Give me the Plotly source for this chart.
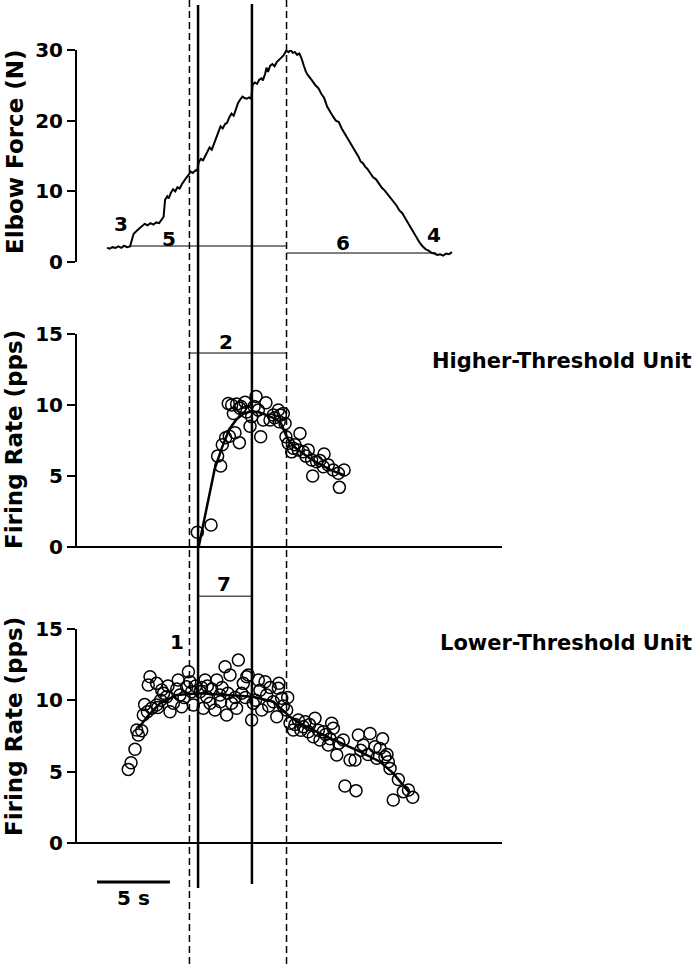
import plotly.graph_objects as go

# force trace (time s, force N)
force_t = [2.12, 2.3, 2.5, 2.7, 2.9, 3.1, 3.3, 3.5, 3.7, 3.85, 3.95, 4.2, 4.45, 4.7, 4.9, 5.1, 5.3, 5.5,
           5.7, 5.9, 6.0, 6.1, 6.25, 6.35, 6.5, 6.65, 6.8, 6.95, 7.1, 7.25, 7.4, 7.55, 7.7, 7.85, 8.0,
           8.2, 8.3, 8.4, 8.55, 8.7, 8.85, 9.0, 9.15, 9.3, 9.45, 9.6, 9.75, 9.9, 10.05, 10.2, 10.35,
           10.5, 10.65, 10.8, 10.95, 11.1, 11.25, 11.4, 11.55, 11.7, 11.85, 12.0, 12.1, 12.25, 12.4,
           12.55, 12.7, 12.8, 12.95, 13.05, 13.15, 13.3, 13.45, 13.6, 13.75, 13.9, 14.05, 14.2, 14.4,
           14.55, 14.7, 14.85, 15.0, 15.15, 15.3, 15.45, 15.6, 15.75, 15.9, 16.05, 16.2, 16.4, 16.6,
           16.8, 17.0, 17.2, 17.4, 17.6, 17.8, 18.0, 18.2, 18.4, 18.55, 18.7, 18.9, 19.05, 19.2, 19.35,
           19.5, 19.65, 19.8, 19.95, 20.15, 20.35, 20.55, 20.75, 20.95, 21.15, 21.35, 21.55, 21.75,
           21.95, 22.15, 22.35, 22.55, 22.75, 22.95, 23.15, 23.35, 23.55, 23.75, 23.95, 24.15, 24.35,
           24.55, 24.75, 24.95, 25.15, 25.35, 25.55, 25.75]
force_n = [2.0, 1.9, 2.1, 2.0, 2.2, 2.0, 2.3, 2.1, 2.2, 3.3, 4.0, 4.5, 5.0, 5.4, 5.2, 5.5, 5.3, 5.6,
           5.5, 6.0, 6.4, 8.8, 9.3, 9.0, 9.8, 10.3, 10.0, 10.6, 10.4, 11.0, 11.5, 11.9, 12.3, 12.8, 12.6,
           13.0, 12.9, 14.1, 14.6, 14.4, 15.0, 15.6, 16.2, 15.9, 16.8, 17.5, 18.6, 19.2, 18.9, 19.5, 19.7,
           20.5, 21.0, 20.7, 21.6, 22.5, 23.0, 23.4, 23.2, 23.1, 23.3, 23.1, 25.1, 25.4, 25.2,
           25.8, 26.0, 25.7, 26.6, 27.5, 26.9, 27.8, 28.0, 27.7, 28.3, 28.6, 28.9, 29.2, 29.9,
           29.7, 30.0, 29.6, 29.7, 29.3, 29.5, 28.8, 27.8, 26.9, 26.4, 25.9, 25.6, 25.0, 24.6,
           23.8, 23.2, 22.0, 21.2, 20.6, 20.0, 19.8, 18.9, 18.2, 17.6, 17.2, 16.5, 16.0, 15.3, 14.9,
           14.2, 14.0, 13.5, 13.2, 12.6, 12.0, 11.7, 11.1, 10.5, 10.1, 9.6, 9.1, 8.5,
           8.0, 7.3, 6.9, 6.2, 5.5, 4.8, 4.0, 3.3, 2.7, 2.2, 1.8, 1.6, 1.3,
           1.2, 1.0, 1.1, 0.9, 1.2, 1.1, 1.4]

# higher-threshold unit firing rate (time s, pps)
hi_t = [8.31, 9.25, 9.91, 9.70, 10.02, 10.25, 10.50, 10.89, 11.19, 10.66, 10.43, 10.78, 11.00, 11.23,
        11.58, 11.69, 12.03, 11.92, 12.33, 12.49, 12.65, 13.01, 12.83, 13.29, 13.51, 13.86, 13.92,
        14.20, 14.32, 14.38, 14.54, 14.77, 14.88, 15.34, 15.23, 15.57, 15.91, 16.14, 16.21, 16.48,
        16.99, 16.94, 17.28, 17.62, 18.04, 17.97, 18.36, 11.3, 12.2, 13.6, 14.0, 15.0, 15.75, 16.7]
hi_fr = [1.04, 1.55, 5.7, 6.4, 7.2, 7.7, 7.8, 8.05, 7.35, 10.0, 10.1, 9.4, 10.07, 9.77,
         10.2, 9.5, 9.18, 8.5, 10.6, 9.65, 7.77, 10.16, 8.94, 8.94, 9.3, 9.65, 8.82,
         9.4, 8.7, 7.77, 7.3, 6.7, 6.95, 8.0, 6.83, 6.71, 6.83, 6.13, 5.0, 6.0,
         6.55, 5.65, 5.77, 5.42, 4.2, 5.19, 5.42, 9.9, 9.9, 9.1, 9.3, 7.2, 6.4, 6.1]
hi_fit_t = [8.40, 8.9, 9.5, 10.0, 10.5, 11.0, 11.5, 12.0, 12.5, 13.0, 13.5, 14.0, 14.5, 15.0,
            15.5, 16.0, 16.5, 17.0, 17.5, 18.0, 18.4]
hi_fit_fr = [0.0, 2.6, 5.5, 7.0, 8.3, 9.0, 9.4, 9.55, 9.5, 9.3, 9.1, 8.8, 7.6, 7.0,
             6.6, 6.25, 5.95, 5.65, 5.4, 5.2, 5.05]

# lower-threshold unit firing rate (time s, pps)
lo_t = [3.58, 3.77, 4.04, 4.27, 4.16, 4.5, 4.61, 4.89, 5.18, 5.52, 4.95, 5.07, 5.52, 5.87, 6.21, 6.44,
        6.67, 7.0, 7.12, 7.24, 7.7, 7.58, 7.92, 8.04, 8.49, 8.84, 8.72, 8.95, 9.18, 9.52, 9.64, 9.86,
        10.21, 10.55, 10.32, 10.66, 11.0, 11.12, 11.35, 11.46, 11.69, 11.8, 12.03, 12.14, 12.49,
        12.72, 12.95, 13.06, 13.51, 13.75, 13.86, 14.09, 14.43, 14.66, 14.89, 15.23, 15.57, 15.91,
        16.37, 16.25, 16.71, 16.94, 17.28, 17.51, 17.62, 17.86, 18.31, 18.77, 18.42, 19.18, 19.34,
        20.14, 19.68, 20.48, 20.82, 20.6, 21.16, 21.39, 21.51, 22.08, 21.73, 22.42, 22.77, 23.06,
        19.11, 5.8, 6.0, 6.9, 7.4, 8.2, 8.6, 9.3, 9.9, 10.0, 10.4, 10.9, 11.6, 12.3, 12.6, 13.2, 13.3,
        14.2, 14.5, 15.0, 15.4, 16.0, 16.6, 17.1, 17.4, 18.0, 19.5, 20.0, 21.0, 21.3, 15.7, 13.9,
        7.8, 6.3, 5.6, 4.7, 9.0]
lo_fr = [5.16, 5.63, 6.57, 7.57, 7.92, 7.87, 8.97, 9.2, 9.44, 9.67, 11.07, 11.65, 11.19, 10.72, 10.25, 9.2,
         9.79, 11.42, 10.37, 9.55, 12.0, 10.95, 10.6, 9.67, 10.6, 11.42, 9.44, 10.25, 9.79, 9.32, 11.42, 10.37,
         12.36, 11.77, 8.97, 9.79, 9.44, 12.82, 10.49, 11.19, 11.65, 11.77, 8.62, 9.79, 11.42,
         9.32, 11.3, 10.37, 9.9, 8.85, 10.84, 10.14, 9.32, 8.39, 7.92, 8.62, 8.15, 7.8,
         8.74, 7.45, 7.22, 7.8, 6.87, 8.39, 8.04, 6.17, 7.22, 5.82, 3.99, 3.67, 7.57,
         7.68, 6.87, 6.75, 6.62, 5.94, 6.05, 5.7, 5.23, 4.45, 3.01, 3.6, 3.71, 3.2,
         5.82, 10.0, 10.5, 10.8, 10.2, 11.0, 10.9, 10.8, 9.9, 10.9, 10.5, 10.2, 10.2, 10.0, 10.7, 9.6, 10.9,
         9.6, 10.2, 8.3, 7.9, 8.3, 7.9, 7.6, 7.3, 7.0, 6.5, 6.2, 7.3, 6.2, 8.5, 11.2,
         11.3, 11.0, 9.5, 9.7, 11.0]
lo_fit_t = [4.27, 5.0, 5.75, 6.9, 8.49, 10.32, 12.14, 13.51, 14.66, 15.34, 17.17, 19.45, 20.82, 21.73, 22.88]
lo_fit_fr = [8.04, 9.0, 9.79, 10.37, 10.49, 10.37, 10.25, 9.9, 8.85, 8.39, 7.45, 6.4, 5.7, 4.88, 3.48]

# event times (s) and interval levels
dash_times = [7.77, 14.42]
solid_times = [8.36, 12.05]
force_onset_t = 3.70
force_end_t = 24.66
level_5 = 2.26
level_6 = 1.27
level_2 = 13.66
level_7 = 17.3

W, H = 700, 964
PX_PER_S = 14.6
AX_PX = 76


def px(p):
    return p / W


def py(p):
    return 1 - p / H


def t_of(p):
    return (p - AX_PX) / PX_PER_S


BLACK = 'black'
FONT = 'DejaVu Sans'

fig = go.Figure()

fig.add_trace(go.Scatter(x=force_t, y=force_n, mode='lines', yaxis='y',
                         line=dict(color=BLACK, width=2)))
fig.add_trace(go.Scatter(x=hi_t, y=hi_fr, mode='markers', yaxis='y2', cliponaxis=False,
                         marker=dict(symbol='circle-open', size=12, color=BLACK,
                                     line=dict(width=1.5, color=BLACK))))
fig.add_trace(go.Scatter(x=hi_fit_t, y=hi_fit_fr, mode='lines', yaxis='y2',
                         line=dict(color=BLACK, width=2.5)))
fig.add_trace(go.Scatter(x=lo_t, y=lo_fr, mode='markers', yaxis='y3', cliponaxis=False,
                         marker=dict(symbol='circle-open', size=12, color=BLACK,
                                     line=dict(width=1.5, color=BLACK))))
fig.add_trace(go.Scatter(x=lo_fit_t, y=lo_fit_fr, mode='lines', yaxis='y3',
                         line=dict(color=BLACK, width=2.5)))

yax = dict(anchor='free', position=px(AX_PX), showline=True, linecolor=BLACK, linewidth=2,
           ticks='outside', ticklen=8, tickwidth=2, tickcolor=BLACK, showgrid=False,
           zeroline=False, automargin=False,
           tickfont=dict(family=FONT, size=20, color=BLACK, weight='bold'))

fig.update_layout(
    width=W, height=H, margin=dict(l=0, r=0, t=0, b=0, pad=0, autoexpand=False),
    paper_bgcolor='white', plot_bgcolor='white', showlegend=False,
    xaxis=dict(visible=False, range=[t_of(0), t_of(W)], domain=[0, 1], automargin=False),
    yaxis=dict(yax, domain=[py(262), py(50)], range=[0, 30], tickvals=[0, 10, 20, 30]),
    yaxis2=dict(yax, domain=[py(547), py(334)], range=[0, 15], tickvals=[0, 5, 10, 15]),
    yaxis3=dict(yax, domain=[py(843), py(629)], range=[0, 15], tickvals=[0, 5, 10, 15]),
)

shapes = []
for t in dash_times:
    shapes.append(dict(type='line', xref='x', yref='paper', x0=t, x1=t, y0=0, y1=1,
                       line=dict(color=BLACK, width=1.5, dash='7px,4px')))
for t, top, bot in zip(solid_times, [5, 4], [888, 884]):
    shapes.append(dict(type='line', xref='x', yref='paper', x0=t, x1=t, y0=py(bot), y1=py(top),
                       line=dict(color=BLACK, width=2.5)))
# zero lines of the firing-rate panels
for ref in ['y2 domain', 'y3 domain']:
    shapes.append(dict(type='line', xref='x', yref=ref, x0=t_of(70), x1=t_of(502), y0=0, y1=0,
                       line=dict(color=BLACK, width=2)))
# interval markers
shapes.append(dict(type='line', xref='x', yref='y', x0=force_onset_t, x1=dash_times[1],
                   y0=level_5, y1=level_5, line=dict(color=BLACK, width=1)))
shapes.append(dict(type='line', xref='x', yref='y', x0=dash_times[1], x1=force_end_t,
                   y0=level_6, y1=level_6, line=dict(color=BLACK, width=1)))
shapes.append(dict(type='line', xref='x', yref='y2 domain', x0=dash_times[0], x1=dash_times[1],
                   y0=level_2 / 15, y1=level_2 / 15, line=dict(color=BLACK, width=1)))
shapes.append(dict(type='line', xref='x', yref='y3 domain', x0=solid_times[0], x1=solid_times[1],
                   y0=level_7 / 15, y1=level_7 / 15, line=dict(color=BLACK, width=1)))
# 5 s scale bar
shapes.append(dict(type='line', xref='x', yref='paper', x0=t_of(97), x1=t_of(97) + 5,
                   y0=py(882), y1=py(882), line=dict(color=BLACK, width=3)))
fig.update_layout(shapes=shapes)


def label(text, x, y, size=20, angle=0, xanchor='center'):
    fig.add_annotation(text=text, x=px(x), y=py(y), xref='paper', yref='paper', showarrow=False,
                       textangle=angle, xanchor=xanchor, yanchor='middle',
                       font=dict(family=FONT, size=size, color=BLACK, weight='bold'))


label('Elbow Force (N)', 15, 152, size=23, angle=-90)
label('Firing Rate (pps)', 14, 440, size=23, angle=-90)
label('Firing Rate (pps)', 14, 727, size=23, angle=-90)
label('Higher-Threshold Unit', 694, 361, size=21, xanchor='right')
label('Lower-Threshold Unit', 694, 643, size=21, xanchor='right')
label('1', 177, 642)
label('2', 226, 342)
label('3', 121, 224)
label('4', 434, 235)
label('5', 169, 239)
label('6', 343, 243)
label('7', 224, 584)
label('5 s', 133, 898)

# page body has a default 8px margin; drop it so the figure fills the window
fig.write_html("out.html", config={'displayModeBar': False},
               post_script="document.body.style.margin='0';")
